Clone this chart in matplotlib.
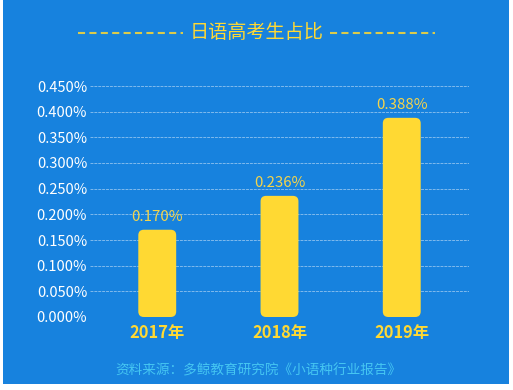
import numpy as np
import matplotlib.pyplot as plt
from matplotlib.patches import FancyBboxPatch, Rectangle
from matplotlib.lines import Line2D

plt.rcParams['font.family'] = ['Noto Sans CJK SC', 'DejaVu Sans']

years = ['2017年', '2018年', '2019年']
share = [0.170, 0.236, 0.388]  # percent
yticks = np.arange(0, 0.451, 0.05)

blue = '#1782DE'
yellow = '#FFD933'

fig = plt.figure(figsize=(5.13, 3.9), dpi=100, facecolor='white')
# blue card background
fig.patches.append(Rectangle((3 / 513, 6 / 390), 506 / 513, 384 / 390,
                             transform=fig.transFigure, facecolor=blue,
                             edgecolor='none', zorder=-10))

ax = fig.add_axes([90 / 513, (390 - 317) / 390, 379 / 513, 231 / 390])
ax.set_facecolor('none')
ax.set_xlim(-0.55, 2.55)
ax.set_ylim(0, 0.45)

w = 0.31
for i, v in enumerate(share):
    ax.add_patch(FancyBboxPatch((i - w / 2, 0), w, v,
                                boxstyle='round,pad=0,rounding_size=0.045',
                                mutation_aspect=0.24,
                                facecolor=yellow, edgecolor='none', zorder=3))
    ax.text(i, v + 0.012, f'{v:.3f}%', ha='center', va='bottom',
            fontsize=10.8, color='#F5D44A', zorder=4)

ax.set_yticks(yticks)
ax.set_yticklabels([f'{t:.3f}%' for t in yticks], color='white', fontsize=10.5)
ax.set_xticks(range(len(years)))
ax.set_xticklabels(years, color=yellow, fontsize=11.8, fontweight='bold')
ax.tick_params(length=0, pad=2)
ax.tick_params(axis='x', pad=5)
ax.yaxis.grid(True, color='white', alpha=0.45, linewidth=0.7,
              linestyle=(0, (3, 1)))
ax.set_axisbelow(True)
for s in ax.spines.values():
    s.set_visible(False)

# title with dashed decorations
ty = (390 - 33) / 390
fig.text(0.5, ty, '日语高考生占比', ha='center', va='center',
         color=yellow, fontsize=13.8)
for x0, x1 in [(78, 183), (330, 435)]:
    fig.lines.append(Line2D([x0 / 513, x1 / 513], [ty, ty], transform=fig.transFigure,
                            color=yellow, linewidth=1.5, linestyle=(0, (3.4, 2.07)),
                            alpha=0.85))

fig.text(0.503, (390 - 370) / 390, '资料来源：多鲸教育研究院《小语种行业报告》',
         ha='center', va='center', color='#45C6F2', fontsize=9.8)

fig.savefig('out.png', dpi=100, facecolor=fig.get_facecolor())
